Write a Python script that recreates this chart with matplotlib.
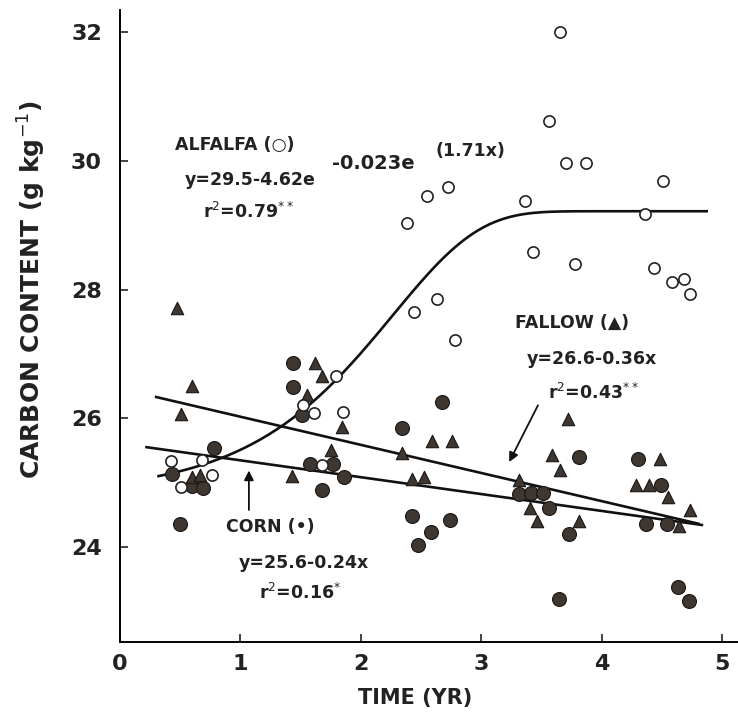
import numpy as np
import matplotlib
matplotlib.use("Agg")
import matplotlib.pyplot as plt

plt.rcParams['font.family'] = ['DejaVu Sans']
plt.rcParams['mathtext.fontset'] = 'dejavusans'

# alfalfa (open circles)
alfalfa_x = [0.42, 0.68, 0.76, 0.51, 1.52, 1.61, 1.85, 1.68, 1.79, 2.38, 2.44, 2.55, 2.63, 2.72,
             2.78, 3.36, 3.43, 3.56, 3.65, 3.70, 3.78, 3.87, 4.36, 4.43, 4.51, 4.58, 4.68, 4.73]
alfalfa_y = [25.33, 25.35, 25.11, 24.93, 26.21, 26.08, 26.09, 25.28, 26.66, 29.04, 27.65, 29.46, 27.86, 29.60,
             27.22, 29.38, 28.59, 30.63, 32.01, 29.97, 28.40, 29.97, 29.18, 28.34, 29.69, 28.12, 28.17, 27.93]

# corn (filled circles)
corn_x = [1.44, 1.44, 1.51, 0.78, 0.43, 0.60, 0.69, 0.50, 1.58, 1.77, 1.86, 1.68, 2.34, 2.42, 2.47, 2.67,
          2.58, 2.74, 3.31, 3.41, 3.51, 3.56, 3.81, 3.73, 3.64, 4.30, 4.49, 4.37, 4.54, 4.63, 4.72]
corn_y = [26.86, 26.48, 26.05, 25.53, 25.13, 24.94, 24.92, 24.36, 25.29, 25.29, 25.08, 24.89, 25.85, 24.48, 24.03, 26.25,
          24.23, 24.42, 24.82, 24.84, 24.84, 24.61, 25.39, 24.20, 23.19, 25.36, 24.96, 24.35, 24.35, 23.37, 23.15]

# fallow (triangles)
fallow_x = [0.47, 0.60, 0.51, 0.60, 0.66, 1.43, 1.55, 1.62, 1.68, 1.84, 1.75, 2.34, 2.42, 2.52, 2.59,
            2.76, 3.31, 3.40, 3.46, 3.59, 3.65, 3.72, 3.81, 4.28, 4.39, 4.48, 4.55, 4.64, 4.73]
fallow_y = [27.71, 26.50, 26.06, 25.09, 25.12, 25.10, 26.36, 26.86, 26.65, 25.87, 25.50, 25.46, 25.05, 25.08, 25.64,
            25.64, 25.04, 24.61, 24.40, 25.43, 25.20, 25.99, 24.40, 24.96, 24.96, 25.37, 24.77, 24.33, 24.58]

# regression lines as drawn
corn_fit_x = [0.22, 4.83]
corn_fit_y = [25.55, 24.34]
fallow_fit_x = [0.30, 4.80]
fallow_fit_y = [26.33, 24.36]

# alfalfa curve parameters (Gompertz type, matched to the drawn curve)
alf_a, alf_b, alf_c, alf_k = 29.22, 4.4, 0.042, 1.4
alf_range = (0.32, 4.87)

fig = plt.figure(figsize=(7.38, 7.13), dpi=100)
ax = fig.add_axes([0.1626, 0.0996, 0.8374, 0.8864])

dark = '#3e3630'
ax.scatter(corn_x, corn_y, s=100, marker='o', facecolor=dark, edgecolor='#1a1512', linewidth=0.8, zorder=3)
ax.scatter(fallow_x, fallow_y, s=80, marker='^', facecolor=dark, edgecolor='#1a1512', linewidth=0.8, zorder=3)
ax.scatter(alfalfa_x, alfalfa_y, s=65, marker='o', facecolor='white', edgecolor='#222222', linewidth=1.2, zorder=3)

ax.plot(corn_fit_x, corn_fit_y, color='#111111', lw=1.9, zorder=2)
ax.plot(fallow_fit_x, fallow_fit_y, color='#111111', lw=1.9, zorder=2)
xc = np.linspace(alf_range[0], alf_range[1], 200)
ax.plot(xc, alf_a - alf_b * np.exp(-alf_c * np.exp(alf_k * xc)), color='#111111', lw=1.9, zorder=2)

# annotations
tk = dict(fontsize=12.5, fontweight='bold', color='#222222', va='center', ha='left')
ax.text(0.457, 30.25, 'ALFALFA (○)', **tk)
ax.text(0.54, 29.71, 'y=29.5-4.62e', **tk)
ax.text(1.76, 29.97, '-0.023e', fontsize=14, fontweight='bold', color='#222222', va='center', ha='left')
ax.text(2.62, 30.15, '(1.71x)', fontsize=12.5, fontweight='bold', color='#222222', va='center', ha='left')
ax.text(0.69, 29.21, r'r$^{2}$=0.79$^{**}$', **tk)

ax.text(3.28, 27.48, 'FALLOW (▲)', **tk)
ax.text(3.38, 26.92, 'y=26.6-0.36x', **tk)
ax.text(3.555, 26.40, r'r$^{2}$=0.43$^{**}$', **tk)
ax.annotate('', xy=(3.22, 25.28), xytext=(3.48, 26.24),
            arrowprops=dict(arrowstyle='-|>', color='#111111', lw=1.3, mutation_scale=14))

ax.text(0.88, 24.31, 'CORN (•)', **tk)
ax.text(0.99, 23.75, 'y=25.6-0.24x', **tk)
ax.text(1.155, 23.28, r'r$^{2}$=0.16$^{*}$', **tk)
ax.annotate('', xy=(1.07, 25.23), xytext=(1.07, 24.53),
            arrowprops=dict(arrowstyle='-|>', color='#111111', lw=1.3, mutation_scale=14))

ax.set_xlim(0, 5.13)
ax.set_ylim(22.52, 32.35)
ax.set_xticks([0, 1, 2, 3, 4, 5])
ax.set_yticks([24, 26, 28, 30, 32])
ax.tick_params(direction='in', length=6, width=1.2, labelsize=16, colors='#222222', pad=9)
for lab in ax.get_xticklabels() + ax.get_yticklabels():
    lab.set_fontweight('bold')
ax.tick_params(axis='y', pad=13)

ax.spines['top'].set_visible(False)
ax.spines['right'].set_visible(False)
ax.spines['left'].set_linewidth(1.4)
ax.spines['bottom'].set_linewidth(1.4)

fig.text(415 / 738, 1 - 698 / 713, 'TIME (YR)', fontsize=15, fontweight='bold', color='#222222',
         ha='center', va='center')
fig.text(32 / 738, 1 - 290 / 713, r'CARBON CONTENT (g kg$^{-1}$)', fontsize=18, fontweight='bold',
         color='#222222', rotation=90, ha='center', va='center')

plt.savefig('out.png', dpi=100)
